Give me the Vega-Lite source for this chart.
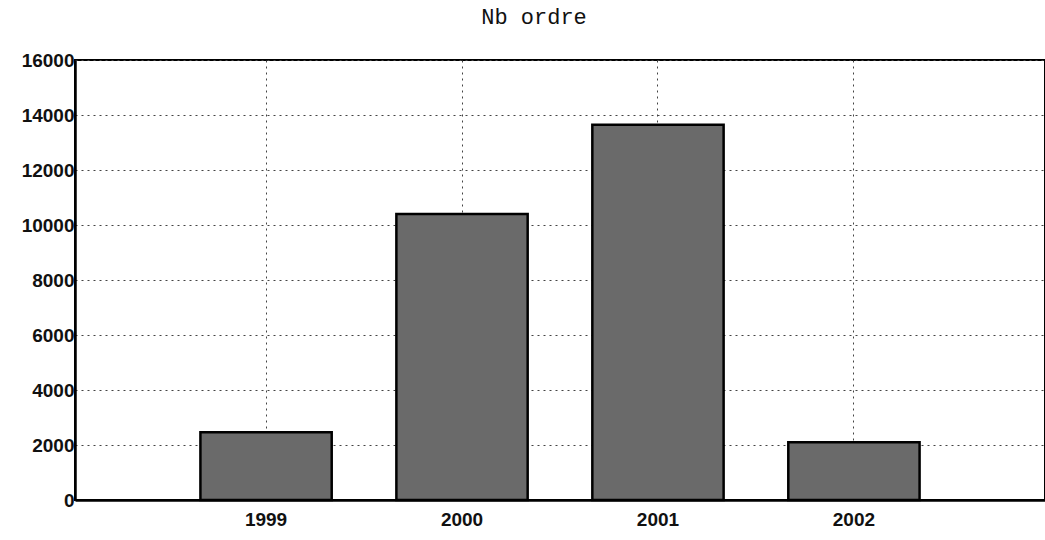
{
  "$schema": "https://vega.github.io/schema/vega-lite/v6.json",
  "width": 970,
  "height": 440,
  "autosize": {"type": "none"},
  "padding": {"left": 75, "top": 60, "right": 0, "bottom": 40},
  "background": "white",
  "title": {
    "text": "Nb ordre",
    "font": "Liberation Mono",
    "fontSize": 22,
    "fontWeight": "normal",
    "color": "#111",
    "offset": 22,
    "dx": -26
  },
  "config": {
    "view": {"stroke": "black", "strokeWidth": 2},
    "axis": {
      "labelFont": "Liberation Sans",
      "labelFontSize": 19,
      "labelFontWeight": "bold",
      "labelColor": "#111",
      "domainColor": "black",
      "domainWidth": 2.5,
      "grid": true,
      "gridColor": "#444",
      "gridDash": [2, 4],
      "gridWidth": 1,
      "ticks": false,
      "title": null
    }
  },
  "data": {
    "values": [
      {"year": "1999", "nb": 2460},
      {"year": "2000", "nb": 10400},
      {"year": "2001", "nb": 13650},
      {"year": "2002", "nb": 2100}
    ]
  },
  "mark": {"type": "bar", "fill": "#6a6a6a", "stroke": "black", "strokeWidth": 2.5},
  "encoding": {
    "x": {
      "field": "year",
      "type": "nominal",
      "scale": {"paddingInner": 0.33, "paddingOuter": 0.64},
      "axis": {"labelAngle": 0, "labelPadding": 10}
    },
    "y": {
      "field": "nb",
      "type": "quantitative",
      "scale": {"domain": [0, 16000]},
      "axis": {"values": [0, 2000, 4000, 6000, 8000, 10000, 12000, 14000, 16000], "format": "d", "labelPadding": 1}
    }
  }
}
